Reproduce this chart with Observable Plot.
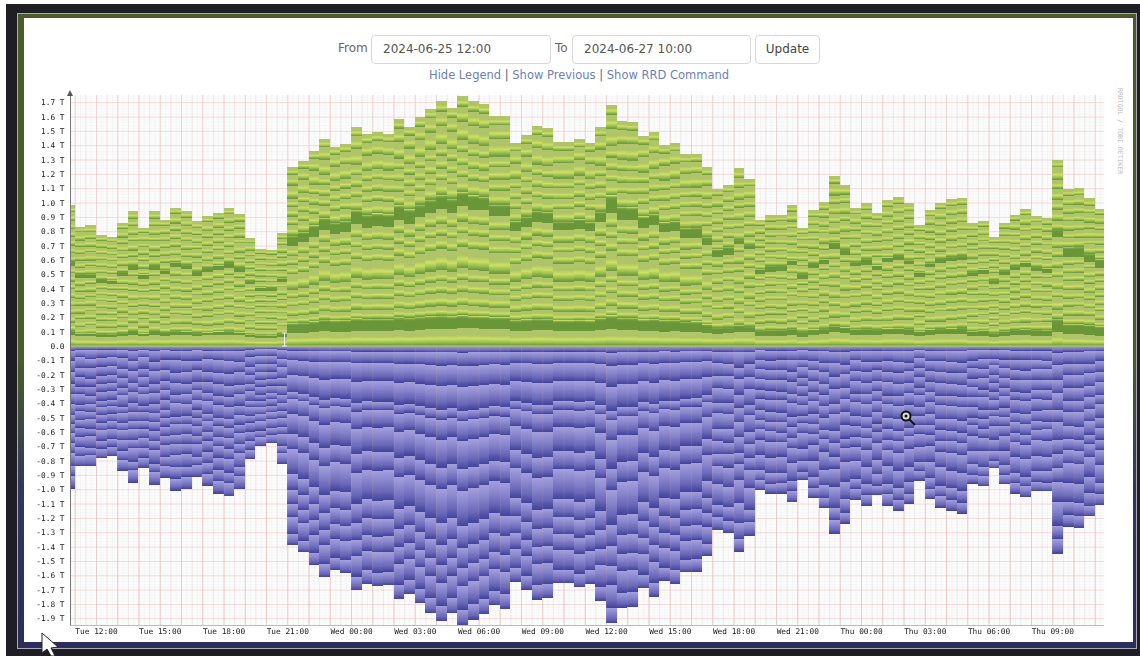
<!DOCTYPE html>
<html>
<head>
<meta charset="utf-8">
<script src="https://cdn.jsdelivr.net/npm/d3@7"></script>
<script src="https://cdn.jsdelivr.net/npm/@observablehq/plot@0.6"></script>
<style>
html,body{margin:0;padding:0;background:#fff;width:1140px;height:656px;overflow:hidden}
#page{position:relative;width:1140px;height:656px;font-family:"DejaVu Sans",sans-serif}
.abs{position:absolute}
#dark{left:6px;top:4px;right:0;bottom:0;background:#1e1e24}
#frame{left:17px;top:13px;width:1120px;height:636px;background:linear-gradient(#4a5a28,#4a5a28 55%,#33345e 75%,#2c2d5a);border:1px solid #aab;box-sizing:border-box}
#white{left:24px;top:18px;width:1109px;height:624px;background:#fff}
.lab{font-size:12px;color:#666;top:41px}
.box{box-sizing:border-box;top:35px;height:29px;border:1px solid #d8d8d8;border-radius:4px;background:#fff;font-size:12px;color:#555;line-height:27px;padding-left:11px}
#links{top:68px;left:429px;width:300px;font-size:11.5px;color:#6d7fb8;white-space:nowrap;text-align:center}
#links i{font-style:normal;color:#667}
#chart{left:0;top:85px}
#chart svg{display:block;filter:blur(.4px)}
#brand{left:1116px;top:88px;height:90px;writing-mode:vertical-rl;font:6.5px "DejaVu Sans Mono",monospace;color:#bbb;white-space:nowrap}
#cursors{left:0;top:0;pointer-events:none}
</style>
</head>
<body>
<div id="page">
  <div id="dark" class="abs"></div>
  <div id="frame" class="abs"></div>
  <div id="white" class="abs"></div>
  <div class="abs lab" style="left:338px">From</div>
  <div class="abs box" style="left:371px;width:180px">2024-06-25 12:00</div>
  <div class="abs lab" style="left:555px">To</div>
  <div class="abs box" style="left:572px;width:179px">2024-06-27 10:00</div>
  <div class="abs box" style="left:755px;width:65px;padding:0;text-align:center;color:#444">Update</div>
  <div id="links" class="abs">Hide Legend <i>|</i> Show Previous <i>|</i> Show RRD Command</div>
  <div id="chart" class="abs"></div>
  <div id="brand" class="abs">RRDTOOL / TOBI OETIKER</div>
  <svg id="cursors" class="abs" width="1140" height="656">
    <path d="M70 90l-3 6h6z" fill="#555"/>
    <path d="M282 333h5M284.500 333v13M282 346h5" stroke="#eef" stroke-width="1" fill="none"/>
    <line x1="909" y1="419" x2="915" y2="425" stroke="#111" stroke-width="2"/>
    <circle cx="906" cy="416" r="4.500" fill="#ddd" stroke="#111" stroke-width="2"/>
    <circle cx="906" cy="416" r="1.500" fill="#111"/>
    <path d="M42 633l0 20 5-4 4 7h4l-4-8 7-1z" fill="#fff" stroke="#222" stroke-width="1"/>
  </svg>
</div>
<script>
// Per-bar totals in T (half-hour bars, first bar is cut by the left edge)
const inboundTotal = [0.98,0.83,0.84,0.77,0.76,0.855,0.94,0.825,0.94,0.88,0.965,0.94,0.87,0.905,0.93,0.965,0.92,0.75,0.675,0.67,0.79,
 1.245,1.29,1.36,1.445,1.39,1.41,1.525,1.475,1.49,1.48,1.58,1.53,1.595,1.655,1.705,1.66,1.74,1.705,1.69,1.605,1.605,1.415,1.47,1.535,1.52,1.42,1.42,1.445,1.415,1.525,1.68,1.57,1.565,1.465,1.495,1.40,1.415,1.335,1.34,1.245,
 1.095,1.125,1.24,1.165,0.88,0.91,0.91,0.98,0.825,0.945,1.005,1.185,1.12,0.96,0.995,0.93,1.015,1.04,0.995,0.84,0.95,1.00,1.025,1.035,0.855,0.87,0.76,0.86,0.915,0.955,0.905,0.895,1.30,1.095,1.10,1.03,0.955];
const outboundTotal = [0.995,0.84,0.84,0.785,0.77,0.87,0.955,0.85,0.97,0.92,1.01,1.00,0.915,0.975,1.03,1.05,1.00,0.79,0.70,0.68,0.825,
 1.39,1.44,1.53,1.615,1.565,1.585,1.705,1.66,1.675,1.67,1.765,1.73,1.795,1.865,1.92,1.865,1.95,1.91,1.87,1.81,1.835,1.645,1.70,1.77,1.76,1.655,1.655,1.685,1.66,1.78,1.935,1.825,1.82,1.69,1.75,1.64,1.66,1.58,1.575,1.465,
 1.285,1.305,1.435,1.325,1.005,1.03,1.03,1.09,0.935,1.06,1.13,1.31,1.24,1.075,1.115,1.04,1.115,1.15,1.10,0.94,1.07,1.13,1.15,1.17,0.96,0.98,0.855,0.965,1.03,1.055,1.015,1.015,1.45,1.26,1.27,1.19,1.11];
// Thickness of the two wide dark green series per bar
const lowBand = [.025,.02,.02,.02,.02,.02,.025,.02,.025,.02,.025,.025,.02,.02,.025,.025,.02,.02,.02,.02,.02,
 .07,.07,.075,.08,.08,.08,.085,.085,.085,.085,.09,.09,.09,.09,.09,.09,.09,.085,.085,.085,.085,.08,.08,.08,.08,.075,.075,.075,.075,.085,.095,.085,.085,.08,.08,.08,.08,.075,.075,.06,
 .04,.04,.045,.04,.035,.04,.04,.04,.035,.04,.04,.045,.04,.04,.04,.04,.04,.04,.04,.035,.04,.04,.04,.045,.035,.04,.03,.035,.04,.04,.04,.04,.09,.07,.07,.07,.065];
const midBand = [.03,.03,.03,.025,.025,.03,.03,.03,.03,.03,.035,.03,.03,.03,.03,.035,.03,.025,.025,.025,.03,
 .07,.07,.08,.08,.08,.08,.1,.09,.09,.09,.1,.1,.09,.09,.1,.1,.1,.1,.095,.08,.08,.07,.07,.08,.08,.06,.06,.065,.06,.075,.12,.09,.09,.08,.08,.07,.07,.07,.07,.06,
 .055,.06,.03,.03,.03,.04,.04,.03,.04,.03,.03,.045,.035,.03,.04,.03,.03,.03,.03,.03,.03,.03,.03,.03,.03,.03,.03,.03,.03,.03,.03,.03,.05,.07,.07,.06,.06];
// Relative thickness of the remaining series; null = one of the wide bands above
const inboundQuiet = [
 [36,null,26,28,24,26,28,24,26,24,null,26,24,28,24,26,28,22],
 [36,null,22,32,20,30,24,28,22,28,null,22,28,24,28,22,32,20],
 [36,null,30,24,28,22,32,20,30,20,null,30,20,32,20,30,24,26]];
const inboundPeak  = [53,null,30,40,35,35,65,40,35,45,null,45,35,40,35,55,45,31];
const outboundQuiet = [
 [15,30,35,35,32,30,35,25,30,30,30,40,30,38],
 [15,26,40,30,36,26,40,22,34,26,34,36,34,36],
 [15,34,30,40,28,34,30,28,26,34,26,44,26,40]];
const outboundPeak  = [20,40,63,72,30,60,85,65,105,65,60,55,70,47];
const outboundLate  = [
 [18,38,35,40,40,35,45,40,35,40,60,60,40,37],
 [18,34,40,36,46,30,50,36,40,36,54,64,36,40],
 [18,42,30,44,36,40,40,44,30,44,64,54,44,34]];
const peakBars = [21,60];
// Which stripe arrangement each quiet bar is closest to (early bars, late bars)
const earlyVariant = [0,1,2,0,0,1,2,1,2,0,1,0,2,1,1,0,2,1,0,0,2];
const lateVariant = [1,0,2,1,0,0,1,1,2,0,2,1,2,1,0,2,1,0,2,1,0,1,0,0,2,1,2,0,1,1,0,2,1,0,0,2,1];
// Axis content
const yTicks = [1.7,1.6,1.5,1.4,1.3,1.2,1.1,1.0,0.9,0.8,0.7,0.6,0.5,0.4,0.3,0.2,0.1,0,-0.1,-0.2,-0.3,-0.4,-0.5,-0.6,-0.7,-0.8,-0.9,-1.0,-1.1,-1.2,-1.3,-1.4,-1.5,-1.6,-1.7,-1.8,-1.9];
const xTickDates = ["2024-06-25T12:00","2024-06-25T15:00","2024-06-25T18:00","2024-06-25T21:00","2024-06-26T00:00","2024-06-26T03:00","2024-06-26T06:00","2024-06-26T09:00","2024-06-26T12:00","2024-06-26T15:00","2024-06-26T18:00","2024-06-26T21:00","2024-06-27T00:00","2024-06-27T03:00","2024-06-27T06:00","2024-06-27T09:00"];
const xTickLabels = ["Tue 12:00","Tue 15:00","Tue 18:00","Tue 21:00","Wed 00:00","Wed 03:00","Wed 06:00","Wed 09:00","Wed 12:00","Wed 15:00","Wed 18:00","Wed 21:00","Thu 00:00","Thu 03:00","Thu 06:00","Thu 09:00"];
const gradients = {
  gUp: [[0,"#b0c56a"],[.38,"#afc468"],[.58,"#cde062"],[.78,"#9dbf52"],[.92,"#76a341"],[1,"#6e9b3c"]],
  gBand: [[0,"#c9dc64"],[.12,"#7aa543"],[.25,"#6a963a"],[1,"#6a963a"]],
  gDown: [[0,"#a3a0de"],[.35,"#8886cc"],[.7,"#6a68b8"],[.9,"#4e4ea4"],[1,"#42439a"]]
};

const utc = s => new Date(s + ":00Z");
const HOUR = 3600e3, T0 = +utc("2024-06-25T11:00");
const xDomain = [new Date(+utc("2024-06-25T12:00") - 1.2235*HOUR), new Date(+utc("2024-06-25T12:00") + 47.435*HOUR)];
const inPeak = i => i >= peakBars[0] && i <= peakBars[1];
const variantOf = i => i < peakBars[0] ? earlyVariant[i] : lateVariant[i - peakBars[1] - 1];
const rows = [];
inboundTotal.forEach((total, i) => {
  const x1 = i === 0 ? xDomain[0] : new Date(T0 + (i-1)*HOUR/2);
  const x2 = i === inboundTotal.length-1 ? xDomain[1] : new Date(T0 + i*HOUR/2);
  // green series stacked upward
  const shares = inPeak(i) ? inboundPeak : inboundQuiet[variantOf(i)];
  const rest = (total - lowBand[i] - midBand[i]) / d3.sum(shares);
  let y = 0;
  shares.forEach((s, j) => {
    const band = s === null;
    const v = band ? (j === 1 ? lowBand[i] : midBand[i]) : s*rest;
    rows.push({x1, x2, y1: y, y2: y+v, fill: band ? "url(#gBand)" : "url(#gUp)"});
    y += v;
  });
  // blue series stacked downward
  const sharesD = inPeak(i) ? outboundPeak : (i > peakBars[1] ? outboundLate : outboundQuiet)[variantOf(i)];
  const restD = outboundTotal[i] / d3.sum(sharesD);
  y = 0;
  sharesD.forEach(s => {
    rows.push({x1, x2, y1: y, y2: y - s*restD, fill: "url(#gDown)"});
    y -= s*restD;
  });
});

const hourly = d3.utcHour.range(xDomain[0], xDomain[1]);
const halfHourly = d3.utcMinute.every(30).range(xDomain[0], xDomain[1]);
const quarterly = d3.utcMinute.every(15).range(xDomain[0], xDomain[1]);
const yMinor = d3.range(-95, 88).map(d => d/50);
const yDomain = [-1.947, 1.75];

const chart = Plot.plot({
  width: 1140, height: 555,
  marginLeft: 70, marginRight: 36, marginTop: 10, marginBottom: 15,
  x: {type: "utc", domain: xDomain, range: [70, 1104]},
  y: {domain: yDomain},
  color: {type: "identity"},
  style: {fontFamily: "'DejaVu Sans Mono',monospace", fontSize: "7.8px", background: "transparent", color: "#222"},
  marks: [
    Plot.frame({fill: "#fdfcfd", stroke: "none"}),
    Plot.ruleX(quarterly, {stroke: "#eeeeee", strokeWidth: 1, opacity: .5}),
    Plot.ruleX(halfHourly, {stroke: "#e6e0e0", strokeWidth: 1, opacity: .6}),
    Plot.ruleY(yMinor, {stroke: "#eeeeee", strokeWidth: 1, opacity: .3}),
    Plot.ruleX(hourly, {stroke: "#eec8c4", strokeWidth: 1, opacity: .6}),
    Plot.ruleY(yTicks, {stroke: "#eec8c4", strokeWidth: 1, opacity: .6}),
    Plot.rect(rows, {x1: "x1", x2: "x2", y1: "y1", y2: "y2", fill: "fill", shapeRendering: "crispEdges"}),
    Plot.ruleX(hourly, {stroke: "#d8a8a0", strokeWidth: 1, opacity: .16, y1: yDomain[0], y2: 0}),
    Plot.ruleY([0], {stroke: "#a9c05e", strokeWidth: 1.5, dy: -0.5}),
    Plot.ruleX([xDomain[0]], {stroke: "#777", strokeWidth: 1}),
    Plot.ruleY([yDomain[0]], {stroke: "#bbb", strokeWidth: 1}),
    Plot.axisY({ticks: yTicks, tickSize: 0, tickPadding: 6, tickFormat: d => d === 0 ? "0.0" : d.toFixed(1) + " T", label: null, fill: "#222"}),
    Plot.axisX({ticks: xTickDates.map(utc), tickSize: 0, tickPadding: 3, tickFormat: d => xTickLabels[xTickDates.findIndex(s => +utc(s) === +d)], label: null, fill: "#222"})
  ]
});
const defs = d3.select(chart).insert("defs", ":first-child");
Object.entries(gradients).forEach(([id, stops]) => {
  const g = defs.append("linearGradient").attr("id", id).attr("x1", 0).attr("y1", 0).attr("x2", 0).attr("y2", 1);
  stops.forEach(([o, c]) => g.append("stop").attr("offset", o).attr("stop-color", c));
});
document.getElementById("chart").appendChild(chart);
</script>
</body>
</html>
